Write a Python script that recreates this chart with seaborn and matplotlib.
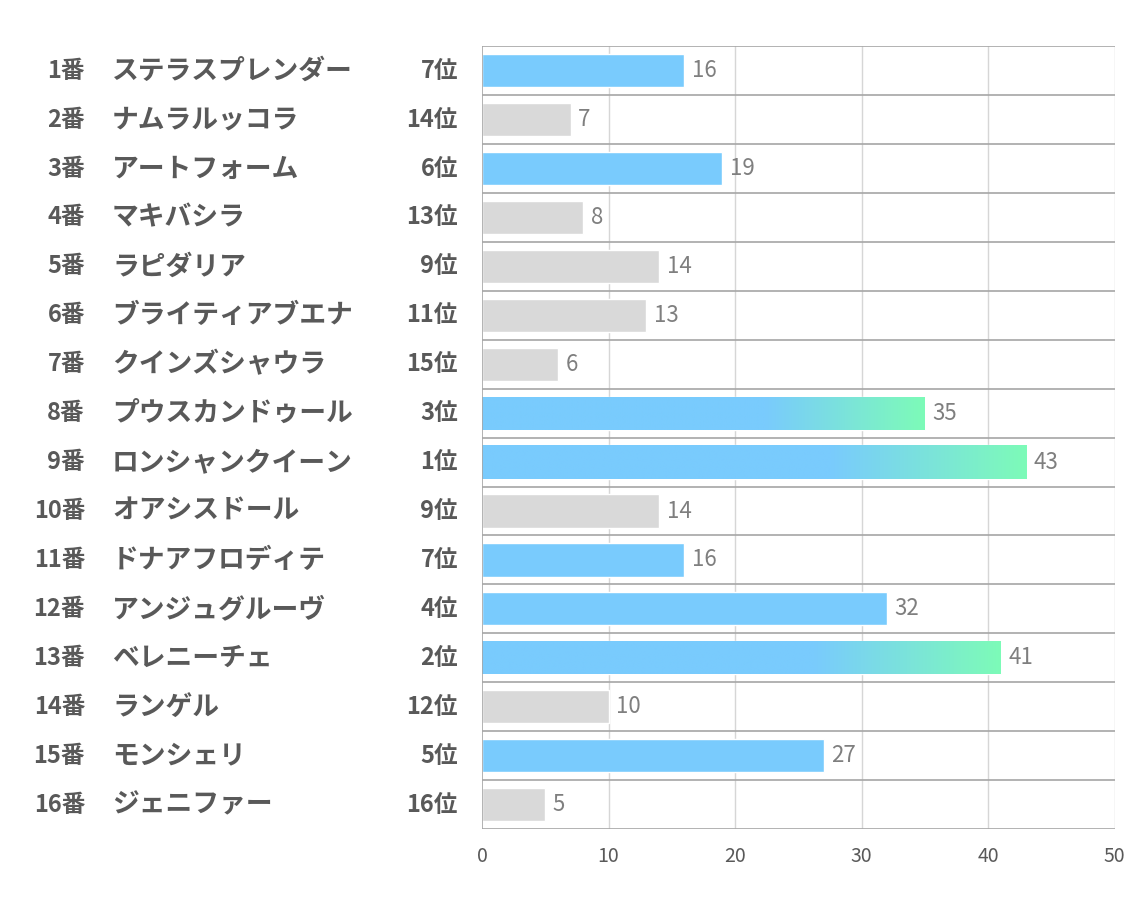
import numpy as np
import pandas as pd
import matplotlib
matplotlib.use("Agg")
import matplotlib.pyplot as plt
import seaborn as sns
from matplotlib.colors import LinearSegmentedColormap

numbers = ["1番", "2番", "3番", "4番", "5番", "6番", "7番", "8番",
           "9番", "10番", "11番", "12番", "13番", "14番", "15番", "16番"]
names = ["ステラスプレンダー", "ナムラルッコラ", "アートフォーム", "マキバシラ",
         "ラピダリア", "ブライティアブエナ", "クインズシャウラ", "プウスカンドゥール",
         "ロンシャンクイーン", "オアシスドール", "ドナアフロディテ", "アンジュグルーヴ",
         "ベレニーチェ", "ランゲル", "モンシェリ", "ジェニファー"]
ranks = [7, 14, 6, 13, 9, 11, 15, 3, 1, 9, 7, 4, 2, 12, 5, 16]
values = [16, 7, 19, 8, 14, 13, 6, 35, 43, 14, 16, 32, 41, 10, 27, 5]
xticks = [0, 10, 20, 30, 40, 50]

sns.set_theme(style="white")
plt.rcParams['font.family'] = ['Noto Sans CJK JP', 'DejaVu Sans']

BLUE = "#79CBFD"
GREEN = "#7DFBB8"
GREY = "#D9D9D9"
TXT = "#595959"

df = pd.DataFrame({"label": [f"{n}{i}" for i, n in enumerate(numbers)],
                   "value": values, "rank": ranks})
colors = [BLUE if r <= 7 else GREY for r in ranks]

fig = plt.figure(figsize=(11.34, 9.07), dpi=100)
ax = fig.add_axes([0.425, 0.086, 0.558, 0.863])

sns.barplot(data=df, y="label", x="value", hue="label", palette=colors,
            legend=False, orient="h", width=0.68, ax=ax, saturation=1)

# gradient for top 3
grad = np.linspace(0, 1, 512).reshape(1, -1)
grad = np.clip((grad - 0.64) / 0.36, 0, 1)
gcmap = LinearSegmentedColormap.from_list("g", [BLUE, GREEN])
for patch, r in zip(ax.patches, ranks):
    if r <= 3:
        x0, y0 = patch.get_x(), patch.get_y()
        w, h = patch.get_width(), patch.get_height()
        im = ax.imshow(grad, cmap=gcmap, vmin=0, vmax=1,
                       extent=[x0, x0 + w, y0 + h, y0], aspect="auto",
                       zorder=patch.get_zorder() + 0.1, interpolation="bilinear")
        im.set_clip_path(patch)

ax.set_xlim(0, 50)
ax.set_ylim(len(values) - 0.5, -0.5)
ax.set_xticks(xticks)
ax.set_xticklabels([str(t) for t in xticks], color=TXT, fontsize=14)
ax.tick_params(axis="x", length=0, pad=12)
ax.set_yticks([])
ax.set_xlabel("")
ax.set_ylabel("")

for sp in ax.spines.values():
    sp.set_visible(False)

# gridlines
for t in xticks[1:]:
    ax.axvline(t, color="#D6D6D6", lw=1, zorder=0)
for b in np.arange(-0.5, len(values) + 0.5, 1):
    ax.axhline(b, color="#A6A6A6", lw=1.2, zorder=0.5)
ax.axvline(0, color="#A6A6A6", lw=1.2, zorder=3)

# value labels
for i, v in enumerate(values):
    ax.text(v + 0.6, i, str(v), va="center", ha="left", fontsize=16,
            color="#7F7F7F", zorder=5)

# left labels
for i, (n, nm, r) in enumerate(zip(numbers, names, ranks)):
    y = ax.transData.transform((0, i))[1]
    yf = fig.transFigure.inverted().transform((0, y))[1]
    fig.text(85 / 1134, yf, n, ha="right", va="center", fontsize=17,
             fontweight="bold", color=TXT)
    fig.text(112 / 1134, yf, nm, ha="left", va="center", fontsize=19.3,
             fontweight="bold", color=TXT)
    fig.text(458 / 1134, yf, f"{r}位", ha="right", va="center", fontsize=17,
             fontweight="bold", color=TXT)

fig.savefig("out.png", dpi=100, facecolor="white")
